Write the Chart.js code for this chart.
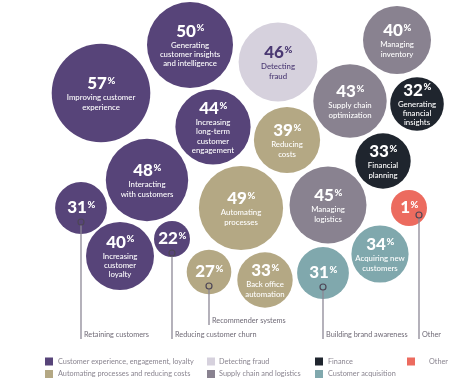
<!DOCTYPE html>
<html>
<head>
<meta charset="utf-8">
<script src="https://cdn.jsdelivr.net/npm/chart.js@4"></script>
<style>
  html, body { margin: 0; padding: 0; background: #fff; }
  #wrap { width: 474px; height: 387px; position: relative; }
</style>
</head>
<body>
<div id="wrap"><canvas id="bubbles"></canvas></div>
<script>
// categories (legend order: column by column)
const categories = [
  "Customer experience, engagement, loyalty",
  "Automating processes and reducing costs",
  "Detecting fraud",
  "Supply chain and logistics",
  "Finance",
  "Customer acquisition",
  "Other"
];

// one entry per bubble
const names = [
  "Improving customer\nexperience",
  "Generating\ncustomer insights\nand intelligence",
  "Increasing\nlong-term\ncustomer\nengagement",
  "Interacting\nwith customers",
  "Retaining customers",
  "Increasing\ncustomer\nloyalty",
  "Reducing customer churn",
  "Detecting\nfraud",
  "Managing\ninventory",
  "Supply chain\noptimization",
  "Managing\nlogistics",
  "Generating\nfinancial\ninsights",
  "Financial\nplanning",
  "Reducing\ncosts",
  "Automating\nprocesses",
  "Recommender systems",
  "Back office\nautomation",
  "Other",
  "Acquiring new\ncustomers",
  "Building brand awareness"
];
const values = [57, 50, 44, 48, 31, 40, 22, 46, 40, 43, 45, 32, 33, 39, 49, 27, 33, 1, 34, 31];
const groups = [0, 0, 0, 0, 0, 0, 0, 2, 3, 3, 3, 4, 4, 1, 1, 1, 1, 6, 5, 5];
// bubble layout position (x across, y down)
const posX = [101, 190, 213, 147, 81, 120, 172, 278, 397, 350, 328, 417, 383, 287, 241, 209, 265, 409, 380, 323];
const posY = [93, 45, 127, 180, 208, 256, 239, 62, 40, 101, 205, 104, 161, 140, 208, 272, 280, 208, 254, 273];
// bubbles labelled below the chart instead of inside
const callouts = ["Retaining customers", "Reducing customer churn", "Recommender systems", "Building brand awareness", "Other"];

const colors = ["#574479", "#b4a884", "#d6d1dd", "#898290", "#1f252e", "#80a8ad", "#ec6b5f"];
const FONT = "Lato, 'Open Sans', sans-serif";

const datasets = categories.map((cat, ci) => ({
  label: cat,
  backgroundColor: colors[ci],
  borderWidth: 0,
  hoverBorderWidth: 0,
  clip: false,
  data: values.map((v, i) => ({ x: posX[i], y: posY[i], r: Math.max(18, 0.9 * v - 2), v: v, name: names[i] }))
    .filter((p, i) => groups[i] === ci)
}));

function drawNumber(c, v, cx, baseY, color) {
  const big = "900 17px " + FONT, small = "900 9.5px " + FONT;
  c.font = big;
  const w1 = c.measureText(String(v)).width;
  c.font = small;
  const w2 = c.measureText("%").width;
  const x0 = cx - (w1 + w2) / 2;
  c.fillStyle = color;
  c.textAlign = "left";
  c.textBaseline = "alphabetic";
  c.font = big;
  c.fillText(String(v), x0, baseY);
  c.font = small;
  c.fillText("%", x0 + w1 + 0.5, baseY - 5.5);
}

const bubbleText = {
  id: "bubbleText",
  afterDatasetsDraw(chart) {
    const c = chart.ctx;
    c.save();
    chart.data.datasets.forEach((ds, di) => {
      const txt = di === 2 ? "#4a3872" : "#ffffff";
      chart.getDatasetMeta(di).data.forEach((el, i) => {
        const d = ds.data[i];
        if (callouts.includes(d.name)) {
          drawNumber(c, d.v, el.x, el.y + 5, txt);
          const mx = el.x + (d.name === "Other" ? 10 : 0);
          const my = d.name === "Other" ? el.y + 7 : el.y + 14;
          const ly = d.name === "Recommender systems" ? 321 : 335;
          c.strokeStyle = "#8d8896";
          c.lineWidth = 1.3;
          c.beginPath();
          c.moveTo(mx, my + 3);
          c.lineTo(mx, ly + 4);
          c.stroke();
          c.strokeStyle = "#4d4656";
          c.lineWidth = 1.2;
          c.beginPath();
          c.arc(mx, my, 3, 0, Math.PI * 2);
          c.stroke();
          c.fillStyle = "#6f6a76";
          c.font = "7.3px " + FONT;
          c.textAlign = "left";
          c.textBaseline = "middle";
          c.fillText(d.name, mx + 3, ly);
          return;
        }
        const lines = d.name.split("\n");
        const H = 24 + (lines.length - 1) * 9.2;
        const top = el.y - H / 2 + 1;
        drawNumber(c, d.v, el.x, top + 12, txt);
        c.font = "500 7.8px " + FONT;
        c.textAlign = "center";
        c.textBaseline = "middle";
        c.fillStyle = txt;
        lines.forEach((ln, k) => c.fillText(ln, el.x, top + 20.5 + k * 9.2));
      });
    });
    c.restore();
  },
  afterDraw(chart) {
    // legend, two rows per column
    const c = chart.ctx;
    const boxX = [45, 207, 315, 407], textX = [58, 219, 328, 429], rowY = [361.5, 374];
    c.save();
    chart.data.datasets.forEach((ds, i) => {
      const col = Math.floor(i / 2), row = i % 2;
      c.fillStyle = ds.backgroundColor;
      c.fillRect(boxX[col], rowY[row] - 4, 8, 8);
      c.fillStyle = "#8a8590";
      c.font = "7.3px " + FONT;
      c.textAlign = "left";
      c.textBaseline = "middle";
      c.fillText(ds.label, textX[col], rowY[row]);
    });
    c.restore();
  }
};

new Chart(document.getElementById("bubbles"), {
  type: "bubble",
  data: { datasets: datasets },
  options: {
    responsive: true,
    maintainAspectRatio: false,
    animation: false,
    events: [],
    layout: { padding: 0, autoPadding: false },
    plugins: { legend: { display: false }, tooltip: { enabled: false } },
    scales: {
      x: { display: false, min: 0, max: 474 },
      y: { display: false, min: 0, max: 387, reverse: true }
    }
  },
  plugins: [bubbleText]
});
</script>
</body>
</html>
